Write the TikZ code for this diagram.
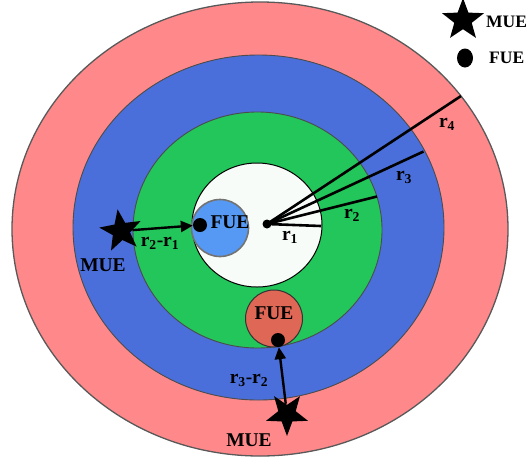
\documentclass[tikz,border=0pt]{standalone}
\usepackage{fontspec}
\setmainfont{Liberation Serif}
\usetikzlibrary{shapes.geometric, arrows.meta, positioning}
\definecolor{macropink}{RGB}{255, 136, 138}
\definecolor{tierblue}{RGB}{74, 111, 218}
\definecolor{tiergreen}{RGB}{34, 198, 90}
\definecolor{corewhite}{RGB}{248, 252, 248}
\definecolor{femtoblue}{RGB}{85, 153, 245}
\definecolor{femtored}{RGB}{222, 103, 86}
\tikzset{
  >=Triangle,
  zone/.style={draw=black!70, line width=0.9pt},
  femto/.style={circle, minimum size=57pt, inner sep=0pt, line width=1pt},
  uedot/.style={circle, fill=black, minimum size=14pt, inner sep=0pt},
  mustar/.style={star, star points=5, star point ratio=2.4, fill=black, minimum size=44pt, inner sep=0pt},
  lbl/.style={font=\fontsize{19.5}{21}\selectfont\bfseries, inner sep=1pt},
  legendlbl/.style={font=\fontsize{17.5}{19}\selectfont\bfseries, inner sep=1pt},
  linkarrow/.style={-{Triangle[length=12pt, width=11pt]}, line width=2.4pt},
  radline/.style={line width=2.6pt}
}
\begin{document}
\begin{tikzpicture}[x=1pt, y=-1pt]
    \useasboundingbox (0,0) rectangle (530,464);
    % tiers
    \fill[macropink, draw=black!65, line width=1.3pt] (260,229) ellipse [x radius=248pt, y radius=227pt];
    \fill[tierblue, zone] (258.5,227.5) ellipse [x radius=185.5pt, y radius=172.5pt];
    \fill[tiergreen, zone] (257.5,230) ellipse [x radius=124.5pt, y radius=118pt];
    \fill[corewhite, draw=black, line width=1pt] (257,225) ellipse [x radius=65pt, y radius=62pt];
    % femtocells
    \node[femto, fill=femtoblue, draw=black!55, line width=1.6pt] (fc1) at (220,228) {};
    \node[femto, fill=femtored, draw=black!80] (fc2) at (274,318.5) {};
    \node[lbl] (fc1txt) at (230,222) {FUE};
    \node[lbl] (fc2txt) at (274,313) {FUE};
    % radii
    \node[circle, fill=black, minimum size=9pt, inner sep=0pt] (bs) at (267,224) {};
    \coordinate (e1) at (321,226);
    \coordinate (e2) at (377,196.5);
    \coordinate (e3) at (423.5,151.5);
    \coordinate (e4) at (461,96);
    \foreach \e in {e1, e2, e3, e4}
        \draw[radline] (bs.center) -- (\e);
    \node[lbl] (r1) at (290,237) {r\textsubscript{1}};
    \node[lbl] (r2) at (352,215) {r\textsubscript{2}};
    \node[lbl] (r3) at (404,177) {r\textsubscript{3}};
    \node[lbl] (r4) at (447,124) {r\textsubscript{4}};
    % users
    \node[uedot] (fue1) at (200,225) {};
    \node[uedot] (fue2) at (278,340) {};
    \node[mustar, rotate=9] (mue1) at (121,231) {};
    \node[mustar, rotate=36] (mue2) at (287,414) {};
    \node[lbl] (mue1txt) at (103,265) {MUE};
    \node[lbl] (mue2txt) at (249,440) {MUE};
    \draw[linkarrow] (mue1) -- (fue1);
    \draw[linkarrow] (mue2) -- (fue2);
    \node[lbl] (d21) at (160,243) {r\textsubscript{2}-r\textsubscript{1}};
    \node[lbl] (d32) at (249,380) {r\textsubscript{3}-r\textsubscript{2}};
    % legend
    \node[mustar] (legstar) at (463,20) {};
    \node[legendlbl, anchor=west] (legmue) at (485,22) {MUE};
    \node[uedot, minimum width=16pt, minimum height=19pt, ellipse] (legdot) at (465,58) {};
    \node[legendlbl, anchor=west] (legfue) at (488,58) {FUE};
\end{tikzpicture}
\end{document}
